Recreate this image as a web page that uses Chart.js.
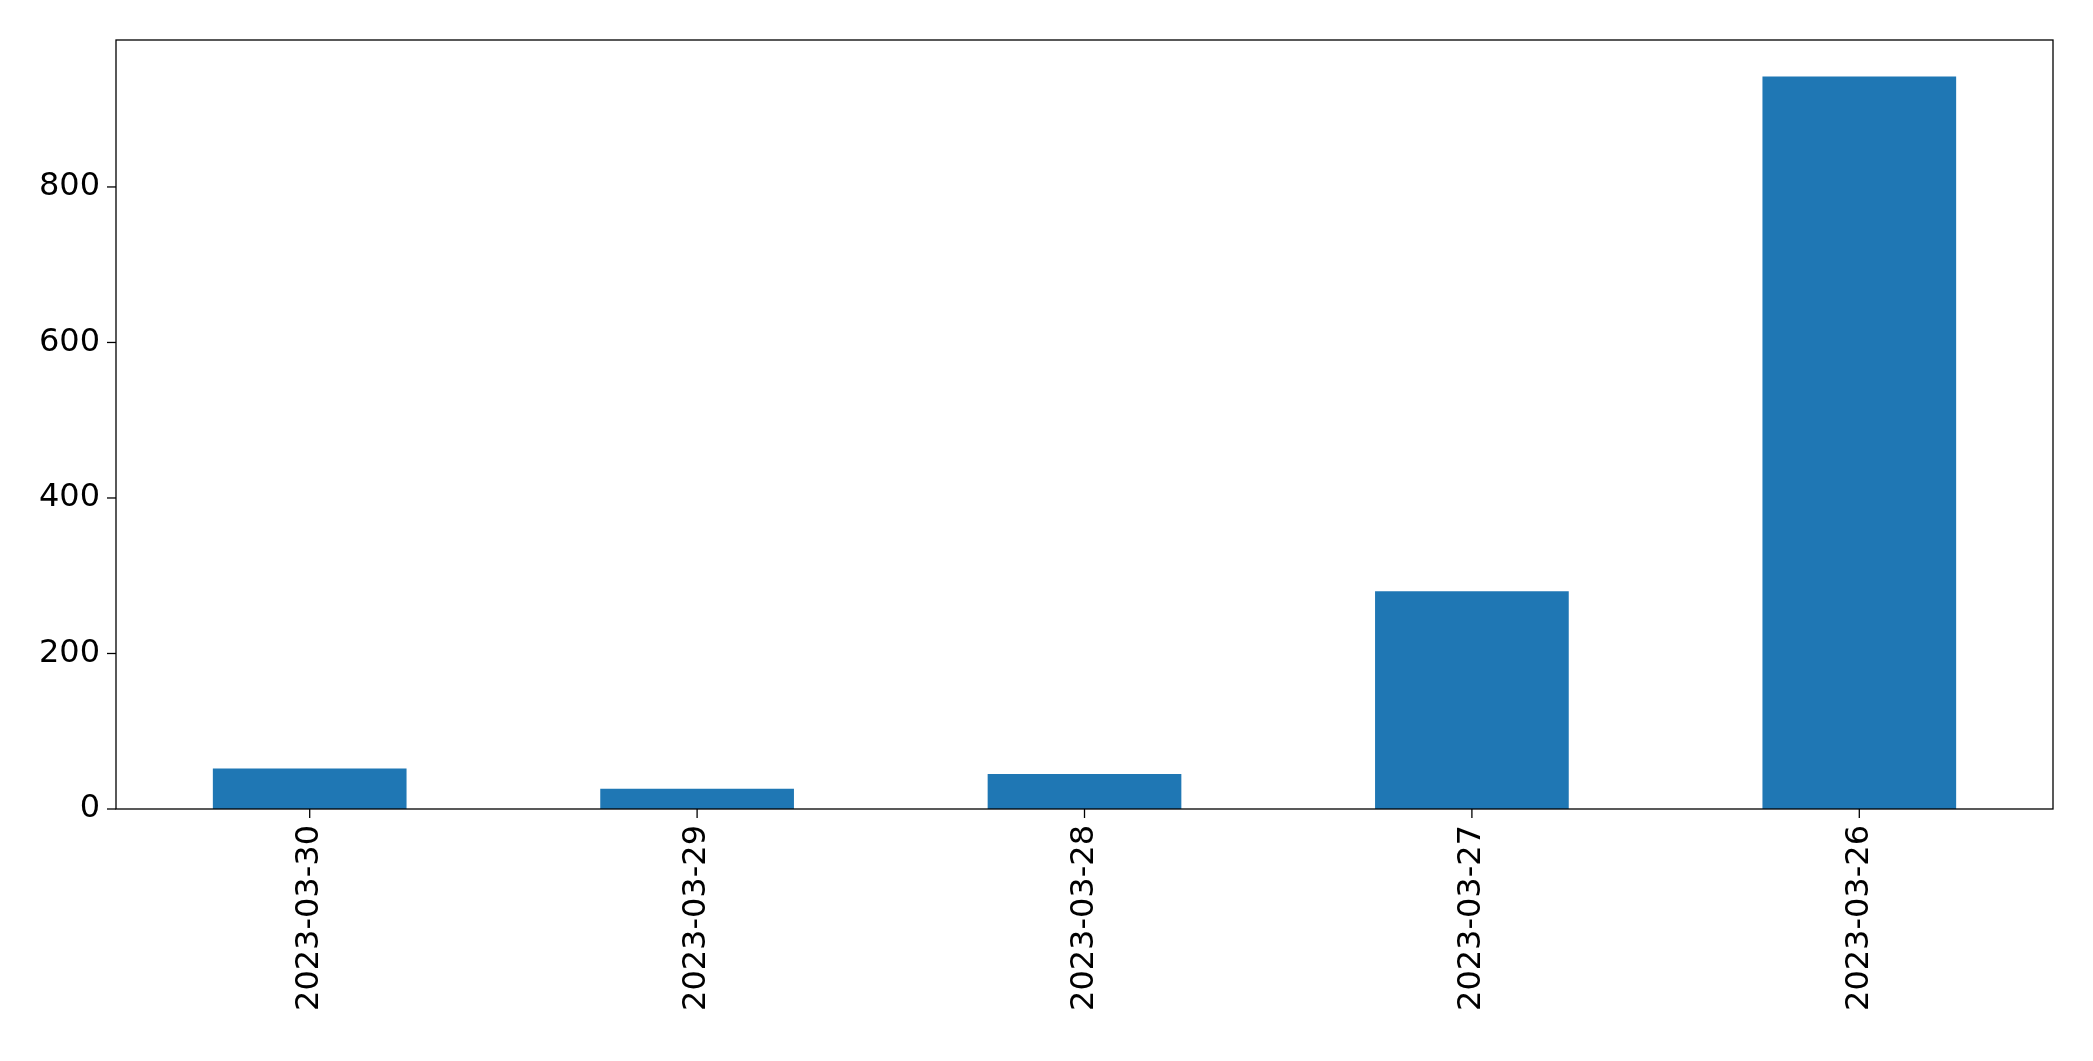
<!DOCTYPE html>
<html><head><script src="https://cdn.jsdelivr.net/npm/chart.js@4"></script>
<style>body{margin:0;background:#fff}</style></head>
<body><canvas id="c" width="2093" height="1061"></canvas>
<script>
const categories=["2023-03-30","2023-03-29","2023-03-28","2023-03-27","2023-03-26"];
const values=[52,26,45,280,942];
const yTicks=[0,200,400,600,800];
const frame={id:'frame',afterDraw(c){const a=c.chartArea,x=c.ctx;x.save();x.strokeStyle='#000';x.lineWidth=1.3;x.strokeRect(a.left,a.top,a.right-a.left,a.bottom-a.top);x.restore();}};
new Chart(document.getElementById('c'),{type:'bar',
data:{labels:categories,datasets:[{data:values,backgroundColor:'#1f77b4',categoryPercentage:1,barPercentage:0.5}]},
options:{responsive:false,animation:false,devicePixelRatio:1,
layout:{padding:{top:40,right:40}},
plugins:{legend:{display:false},tooltip:{enabled:false}},
scales:{
x:{grid:{display:false,drawTicks:true},border:{display:false},
ticks:{color:'#000',font:{family:'DejaVu Sans',size:32},maxRotation:90,minRotation:90,padding:8},
afterFit(s){s.height=252;}},
y:{min:0,max:989,grid:{display:false},border:{display:false},
afterBuildTicks(s){s.ticks=yTicks.map(v=>({value:v}));},
ticks:{color:'#000',font:{family:'DejaVu Sans',size:32},padding:8},
afterFit(s){s.width=116;}}}},
plugins:[frame,{id:'tk',afterDraw(c){const x=c.ctx,a=c.chartArea;x.save();x.strokeStyle='#000';x.lineWidth=1.3;
yTicks.forEach(v=>{const p=c.scales.y.getPixelForValue(v);x.beginPath();x.moveTo(a.left-9,p);x.lineTo(a.left,p);x.stroke();});
categories.forEach((_,i)=>{const p=c.scales.x.getPixelForValue(i);x.beginPath();x.moveTo(p,a.bottom);x.lineTo(p,a.bottom+9);x.stroke();});x.restore();}}]
});
</script></body></html>
